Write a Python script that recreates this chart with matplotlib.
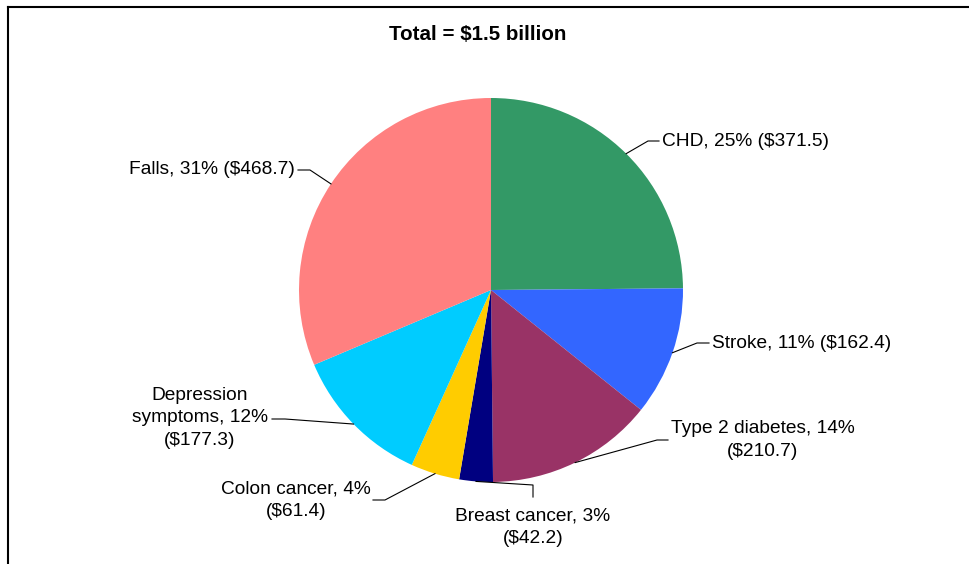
import numpy as np
import matplotlib.pyplot as plt
from matplotlib.lines import Line2D

plt.rcParams['font.family'] = ['Liberation Sans', 'DejaVu Sans']

# data (costs in $ million)
categories = ['CHD', 'Stroke', 'Type 2 diabetes', 'Breast cancer',
              'Colon cancer', 'Depression symptoms', 'Falls']
costs = [371.5, 162.4, 210.7, 42.2, 61.4, 177.3, 468.7]
colors = ['#339966', '#3366FF', '#993366', '#000080', '#FFCC00', '#00CCFF', '#FF8080']

# how each label is wrapped
label_fmt = ['{name}, {pct}% (${val})',
             '{name}, {pct}% (${val})',
             '{name}, {pct}%\n(${val})',
             '{name}, {pct}%\n(${val})',
             '{name}, {pct}%\n(${val})',
             'Depression\nsymptoms, {pct}%\n(${val})',
             '{name}, {pct}% (${val})']

W, H = 970, 564
cx, cy, R = 491, 290, 192


def to_data(px, py):
    return (px - cx) / R, (cy - py) / R


fig = plt.figure(figsize=(W / 100, H / 100), dpi=100)
ax = fig.add_axes([0, 0, 1, 1])

wedges, _ = ax.pie(costs, colors=colors, startangle=90, counterclock=False,
                   radius=1, center=(0, 0), wedgeprops=dict(linewidth=0))
ax.set_xlim(-cx / R, (W - cx) / R)
ax.set_ylim(-(H - cy) / R, cy / R)
ax.set_aspect('equal')
ax.axis('off')

total = sum(costs)

# label layout in pixels: elbow, line end, text anchor, alignment
layout = [
    ((648, 141), (659, 141), (662, 141), 'left'),
    ((697, 343), (709, 343), (712, 343), 'left'),
    ((657, 440), (668, 440), (763, 440), 'center'),
    ((533, 485), (533, 497), (533, 527), 'center'),
    ((385, 500), (373, 500), (296, 500), 'center'),
    ((285, 419), (272, 419), (200, 418), 'center'),
    ((310, 170), (298, 170), (295, 170), 'right'),
]

for w, name, val, fmt, (elbow, end, txt, ha) in zip(wedges, categories, costs,
                                                      label_fmt, layout):
    mid = np.deg2rad((w.theta1 + w.theta2) / 2)
    sx, sy = np.cos(mid), np.sin(mid)
    ex, ey = to_data(*elbow)
    nx, ny = to_data(*end)
    ax.plot([sx, ex, nx], [sy, ey, ny], color='black', lw=0.8)
    pct = round(val / total * 100)
    tx, ty = to_data(*txt)
    ax.text(tx, ty, fmt.format(name=name, pct=pct, val=val), ha=ha, va='center',
            fontsize=13.8, multialignment='center', linespacing=1.45)

fig.text(478 / W, 1 - 34 / H, 'Total = $%.1f billion' % (total / 1000),
         ha='center', va='center', fontsize=14.8, fontweight='bold')

# frame lines on top and left
fig.add_artist(Line2D([8 / W, 1], [1 - 7 / H, 1 - 7 / H], color='black', lw=1.5,
                      transform=fig.transFigure))
fig.add_artist(Line2D([8 / W, 8 / W], [0, 1 - 7 / H], color='black', lw=1.5,
                      transform=fig.transFigure))

fig.savefig('out.png', dpi=100)
